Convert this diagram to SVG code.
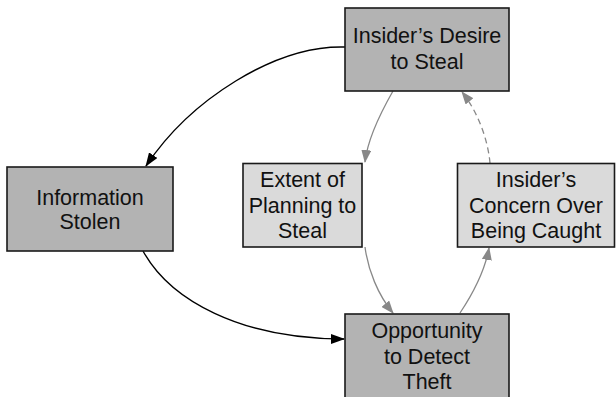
<svg xmlns="http://www.w3.org/2000/svg" width="616" height="397" viewBox="0 0 616 397">
<style>
.dark{fill:#b3b3b3;stroke:#1a1a1a;stroke-width:1.6}
.light{fill:#dadada;stroke:#1a1a1a;stroke-width:1.6}
text{font-family:"Liberation Sans",Arial,sans-serif;font-size:21.5px;fill:#111;text-anchor:middle}
.blk{fill:none;stroke:#000;stroke-width:1.4}
.gry{fill:none;stroke:#888;stroke-width:1.3}
.dash{stroke-dasharray:6 4}
</style>
<defs>
<marker id="ab" markerWidth="14" markerHeight="10" refX="13" refY="5" orient="auto" markerUnits="userSpaceOnUse">
<path d="M0,0 L14,5 L0,10 z" fill="#000"/>
</marker>
<marker id="ag" markerWidth="13" markerHeight="10" refX="12" refY="5" orient="auto" markerUnits="userSpaceOnUse">
<path d="M0,0 L13,5 L0,10 z" fill="#888"/>
</marker>
</defs>
<g id="connectors">
<path class="blk" d="M345,47 C275,45 190,100 146,166" marker-end="url(#ab)"/>
<path class="blk" d="M143,251 C170,300 240,339 344,339" marker-end="url(#ab)"/>
<path class="gry" d="M393,91 C385,105 368,135 365,162" marker-end="url(#ag)"/>
<path class="gry" d="M365,247 C368,270 378,295 393,313" marker-end="url(#ag)"/>
<path class="gry" d="M460,313 C472,295 485,270 489,248" marker-end="url(#ag)"/>
<path class="gry dash" d="M490,163 C488,140 478,112 462,92" marker-end="url(#ag)"/>
</g>
<g id="desire">
<rect class="dark" x="345" y="8" width="164" height="83"/>
<text x="427" y="43">Insider’s Desire</text>
<text x="427" y="69">to Steal</text>
</g>
<g id="stolen">
<rect class="dark" x="7" y="167" width="166" height="84"/>
<text x="90" y="205">Information</text>
<text x="90" y="229">Stolen</text>
</g>
<g id="planning">
<rect class="light" x="243" y="163.5" width="119" height="83.5"/>
<text x="302.5" y="187">Extent of</text>
<text x="302.5" y="212.5">Planning to</text>
<text x="302.5" y="238">Steal</text>
</g>
<g id="concern">
<rect class="light" x="457.5" y="163.5" width="157" height="83.5"/>
<text x="536" y="187">Insider’s</text>
<text x="536" y="213">Concern Over</text>
<text x="536" y="238">Being Caught</text>
</g>
<g id="opportunity">
<rect class="dark" x="345" y="314" width="164" height="100"/>
<text x="427" y="338">Opportunity</text>
<text x="427" y="364">to Detect</text>
<text x="427" y="389">Theft</text>
</g>
</svg>
